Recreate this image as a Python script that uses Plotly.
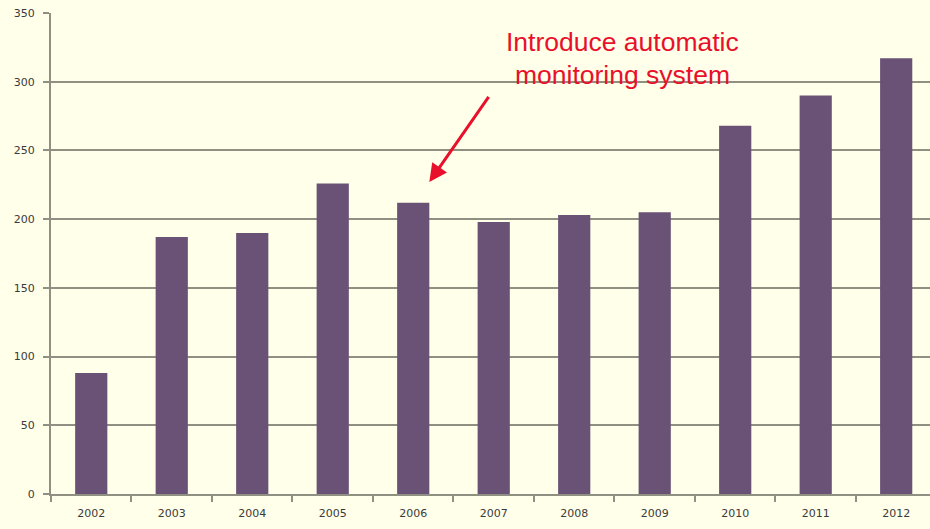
import plotly.graph_objects as go

years = ["2002", "2003", "2004", "2005", "2006", "2007", "2008", "2009", "2010", "2011", "2012"]
values = [88, 187, 190, 226, 212, 198, 203, 205, 268, 290, 317]
y_ticks = [0, 50, 100, 150, 200, 250, 300, 350]
note_lines = ["Introduce automatic", "monitoring system"]

bg = "#FFFFEA"
grid = "#8F8F82"
red = "#E8102A"

fig = go.Figure()
fig.add_trace(go.Bar(x=years, y=values, marker=dict(color="#6A5276", line=dict(width=0))))

fig.add_annotation(x=4.2, y=227, ax=4.95, ay=290, xref="x", yref="y", axref="x", ayref="y",
                   text="", showarrow=True, arrowhead=2, arrowsize=1.2, arrowwidth=3,
                   arrowcolor=red)
for txt, yy in zip(note_lines, [329, 305]):
    fig.add_annotation(x=6.6, y=yy, xref="x", yref="y", text=txt, showarrow=False,
                       font=dict(family="Liberation Sans, Arial", size=26.5, color=red),
                       align="center")

fig.update_layout(
    width=930, height=529,
    margin=dict(l=51, r=0, t=13, b=35),
    paper_bgcolor=bg, plot_bgcolor=bg,
    bargap=0.6,
    showlegend=False,
    xaxis=dict(type="category", range=[-0.5, 10.42], showgrid=False,
               showline=True, linecolor=grid, linewidth=2,
               ticks="outside", tickson="boundaries", ticklen=6, tickcolor=grid, tickwidth=2,
               tickfont=dict(family="DejaVu Sans", size=11, color="#3A3A3A"),
               ticklabelstandoff=8),
    yaxis=dict(range=[0, 350], tickvals=y_ticks, showgrid=True, gridcolor=grid, gridwidth=2,
               showline=True, linecolor=grid, linewidth=2, zeroline=False,
               ticks="outside", ticklen=6, tickcolor=grid, tickwidth=2,
               tickfont=dict(family="DejaVu Sans", size=11, color="#3A3A3A"),
               ticklabelstandoff=6),
)

fig.write_html("out.html")
